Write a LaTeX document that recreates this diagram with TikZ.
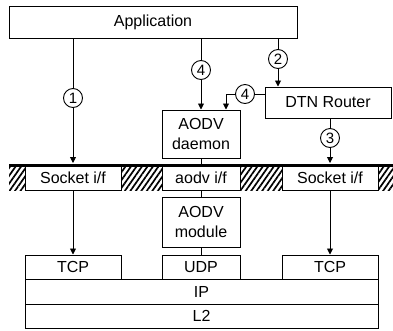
\documentclass[tikz,border=0pt]{standalone}
\usepackage{fontspec}
\setmainfont{Liberation Sans}
\usetikzlibrary{arrows.meta,patterns.meta}
\begin{document}
\begin{tikzpicture}[x=1pt,y=-1pt,
  box/.style={draw,line width=1pt,fill=white,inner sep=0pt,align=center,font=\fontsize{16}{20}\selectfont},
  num/.style={draw,circle,line width=0.9pt,fill=white,inner sep=0pt,minimum size=19pt,font=\fontsize{15}{15}\selectfont},
  conn/.style={line width=0.9pt},
  arr/.style={conn,-{Triangle[length=6pt,width=6pt]}}]
\useasboundingbox (0,0) rectangle (393,330);
% hatched band
\fill[pattern={Lines[angle=55,distance=4.5pt,line width=1.7pt]}] (9,165) rectangle (393,190);
% boxes
\node[box,minimum width=288pt,minimum height=32pt] (app) at (153,22) {Application};
\node[box,minimum width=126pt,minimum height=31pt] (dtn) at (328,102.5) {DTN Router};
\node[box,minimum width=78pt,minimum height=48pt] (daemon) at (201,134) {AODV\\daemon};
\node[box,minimum width=96pt,minimum height=25pt] (sock1) at (73,177.5) {Socket i/f};
\node[box,minimum width=78pt,minimum height=25pt] (aodvif) at (201,177.5) {aodv i/f};
\node[box,minimum width=96pt,minimum height=25pt] (sock2) at (330,177.5) {Socket i/f};
\node[box,minimum width=78pt,minimum height=50pt] (module) at (201,222) {AODV\\module};
\node[box,minimum width=96pt,minimum height=24pt] (tcp1) at (73,267) {TCP};
\node[box,minimum width=78pt,minimum height=24pt] (udp) at (201,267) {UDP};
\node[box,minimum width=96pt,minimum height=24pt] (tcp2) at (330,267) {TCP};
\node[box,minimum width=353pt,minimum height=25pt] (ip) at (201.5,291.5) {IP};
\node[box,minimum width=353pt,minimum height=24pt] (l2) at (201.5,316) {L2};
% thick bar
\coordinate (barL) at (9,165);
\coordinate (barR) at (393,165);
\draw[line width=3pt] (barL) -- (barR);
% numbered circles
\node[num] (n1) at (73,98) {1};
\node[num] (n4a) at (201,70) {4};
\node[num] (n2) at (278,59) {2};
\node[num] (n4b) at (245,94) {4};
\node[num] (n3) at (330,138) {3};
\coordinate (k) at (226,94);
% connectors
\draw[conn] (app.south -| n1) -- (n1);
\draw[arr,shorten >=1.5pt] (n1) -- (sock1.north);
\draw[arr] (sock1) -- (tcp1);
\draw[conn] (app.south -| n4a) -- (n4a);
\draw[arr] (n4a) -- (daemon);
\draw[conn] (app.south -| n2) -- (n2);
\draw[arr] (n2) -- (dtn.north -| n2);
\draw[conn] (n4b -| dtn.west) -- (n4b);
\draw[arr] (n4b) -- (k) -- (daemon.north -| k);
\draw[conn] (dtn.south -| n3) -- (n3);
\draw[arr,shorten >=1.5pt] (n3) -- (sock2.north);
\draw[arr] (sock2) -- (tcp2);
\draw[conn] (daemon.south) -- (aodvif.north);
\draw[conn] (aodvif) -- (module);
\draw[conn] (module) -- (udp);
\end{tikzpicture}
\end{document}
